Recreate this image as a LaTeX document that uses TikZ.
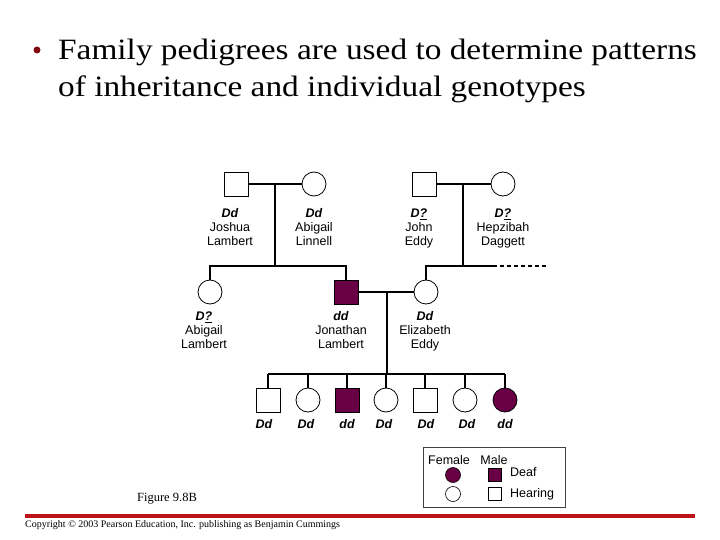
\documentclass[tikz,border=0pt]{standalone}
\usepackage{fontspec}
\setmainfont{Liberation Serif}
\newfontfamily\labfont{Liberation Sans}
\newfontfamily\titlefont[FakeStretch=1.13]{Liberation Serif}
\definecolor{deaf}{RGB}{105,0,70}
\definecolor{redline}{RGB}{190,20,25}
\definecolor{bulletred}{RGB}{130,10,15}
\tikzset{
  male/.style={draw, rectangle, line width=0.8pt, minimum size=24pt, inner sep=0pt},
  female/.style={draw, circle, line width=0.8pt, minimum size=24pt, inner sep=0pt},
  aff/.style={fill=deaf},
  lbl/.style={font=\labfont\fontsize{12.5}{13.8}\selectfont, align=center, inner sep=0pt, anchor=north},
  geno/.style={font=\labfont\fontsize{12.5}{13.8}\selectfont\bfseries\itshape, inner sep=0pt, anchor=base},
  rel/.style={line width=1.6pt},
  title/.style={font=\titlefont\fontsize{29.5}{34}\selectfont, inner sep=0pt, anchor=base west}
}
\newcommand{\gt}[1]{\rule{0pt}{9.2pt}\textbf{\textit{#1}}}
\newcommand{\uq}{\raisebox{0pt}[0pt][0pt]{\underline{?}}}
\begin{document}
\begin{tikzpicture}[x=1pt,y=-1pt]
\useasboundingbox (0,0) rectangle (720,540);
% title
\node[circle, fill=bulletred, minimum size=7pt, inner sep=0pt] (bul) at (37,50) {};
\node[title] (t1) at (58,60) {Family pedigrees are used to determine patterns};
\node[title] (t2) at (58,97) {of inheritance and individual genotypes};
% generation 1
\node[male] (J) at (236,184) {};
\node[female] (AL) at (314,184) {};
\node[male] (JE) at (424,184) {};
\node[female] (HD) at (503,184) {};
\node[lbl] (lJ) at (230,208) {\gt{Dd}\\Joshua\\Lambert};
\node[lbl] (lAL) at (314,208) {\gt{Dd}\\Abigail\\Linnell};
\node[lbl] (lJE) at (419,208) {\gt{D\uq}\\John\\Eddy};
\node[lbl] (lHD) at (503,208) {\gt{D\uq}\\Hepzibah\\Daggett};
\coordinate (m1) at (275,184);
\coordinate (m1b) at (275,266);
\coordinate (m2) at (463,184);
\coordinate (m2b) at (463,266);
\draw[rel] (J.east) -- (AL.west);
\draw[rel] (JE.east) -- (HD.west);
\draw[rel] (m1) -- (m1b);
\draw[rel] (m2) -- (m2b);
% generation 2
\node[female] (AbL) at (210,292) {};
\node[male,aff] (Jon) at (346,292) {};
\node[female] (Eli) at (426,292) {};
\coordinate (s1a) at (210,266);
\coordinate (s1b) at (346,266);
\coordinate (s2a) at (426,266);
\coordinate (s2b) at (493,266);
\coordinate (s2c) at (548,266);
\draw[rel] (AbL.north) -- (s1a) -- (s1b) -- (Jon.north);
\draw[rel] (Eli.north) -- (s2a) -- (s2b);
\draw[line width=1.2pt, dash pattern=on 4pt off 3pt] (s2b) -- (s2c);
\node[lbl] (lAbL) at (204,311) {\gt{D\uq}\\Abigail\\Lambert};
\node[lbl] (lJon) at (341,311) {\gt{dd}\\Jonathan\\Lambert};
\node[lbl] (lEli) at (425,311) {\gt{Dd}\\Elizabeth\\Eddy};
\coordinate (m3) at (387,292);
\coordinate (m3b) at (387,374);
\draw[rel] (Jon.east) -- (Eli.west);
\draw[rel] (m3) -- (m3b);
% generation 3
\node[male] (c1) at (268,400) {};
\node[female] (c2) at (308,400) {};
\node[male,aff] (c3) at (347,400) {};
\node[female] (c4) at (386,400) {};
\node[male] (c5) at (425,400) {};
\node[female] (c6) at (465,400) {};
\node[female,aff] (c7) at (505,400) {};
\coordinate (s3a) at (268,374);
\coordinate (s3b) at (505,374);
\draw[rel] (s3a) -- (s3b);
\foreach \c/\x in {c1/268,c2/308,c3/347,c4/386,c5/425,c6/465,c7/505}
  \draw[rel] (\x,374) -- (\c.north);
\node[geno] (g1) at (264,428) {Dd};
\node[geno] (g2) at (306,428) {Dd};
\node[geno] (g3) at (347,428) {dd};
\node[geno] (g4) at (384,428) {Dd};
\node[geno] (g5) at (426,428) {Dd};
\node[geno] (g6) at (467,428) {Dd};
\node[geno] (g7) at (505,428) {dd};
% legend
\draw[line width=0.8pt, draw=black!75] (423,447) rectangle (565,507);
\node[lbl,anchor=base] (lf) at (449,464) {Female};
\node[lbl,anchor=base] (lm) at (494,464) {Male};
\node[draw, circle, fill=deaf, minimum size=15pt, inner sep=0pt, line width=0.6pt] (kf1) at (453,475) {};
\node[draw, rectangle, fill=deaf, minimum size=13pt, inner sep=0pt, line width=0.6pt] (km1) at (495,475) {};
\node[draw, circle, minimum size=15pt, inner sep=0pt, line width=0.6pt] (kf2) at (453,494) {};
\node[draw, rectangle, minimum size=13pt, inner sep=0pt, line width=0.6pt] (km2) at (495,494) {};
\node[lbl,anchor=base west] (ld) at (510,476) {Deaf};
\node[lbl,anchor=base west] (lh) at (510,497) {Hearing};
% footer
\node[font=\fontsize{12.5}{14}\selectfont, inner sep=0pt] (fig) at (167,499) {Figure 9.8B};
\coordinate (ra) at (25,516);
\coordinate (rb) at (695,516);
\draw[redline, line width=4pt] (ra) -- (rb);
\node[font=\fontsize{10}{12}\selectfont, inner sep=0pt, anchor=west] (copy) at (25,525) {Copyright \textcopyright{} 2003 Pearson Education, Inc. publishing as Benjamin Cummings};
\end{tikzpicture}
\end{document}
